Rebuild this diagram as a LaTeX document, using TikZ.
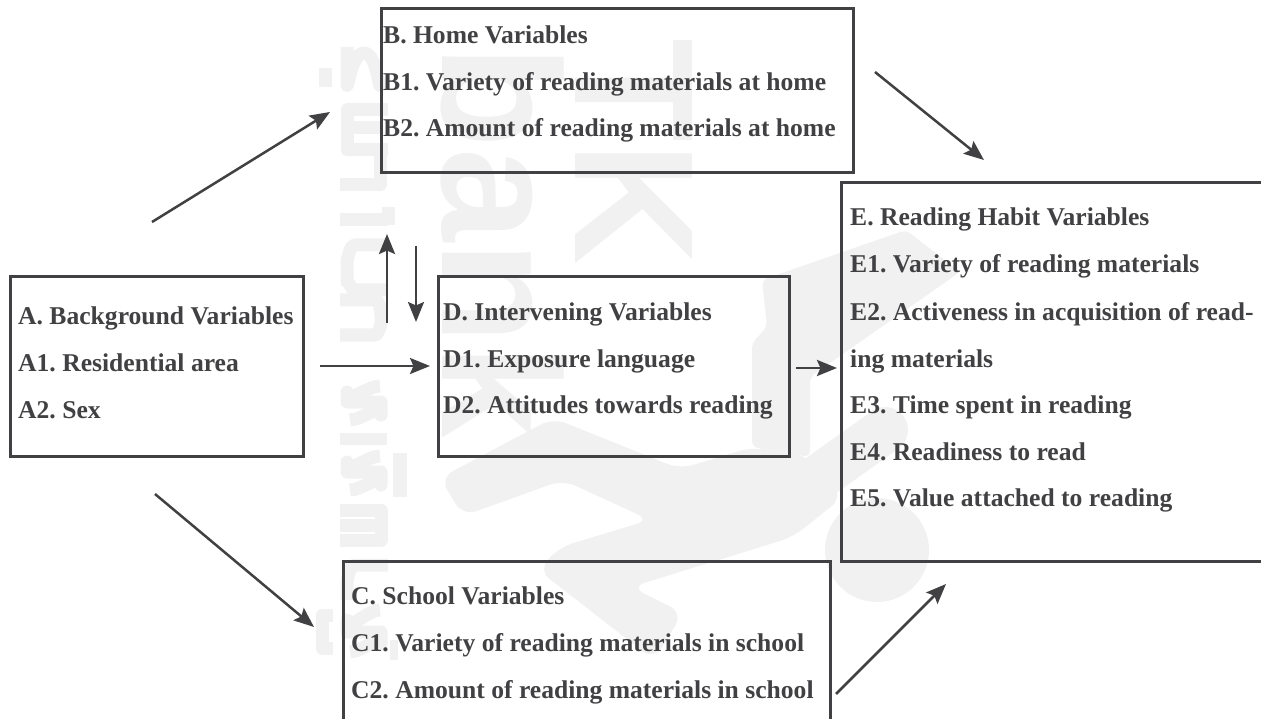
\documentclass[tikz,border=0pt]{standalone}
\usepackage{fontspec}
\setmainfont{Liberation Serif}
\newfontfamily\wm{Liberation Sans}
\frenchspacing
\usetikzlibrary{arrows.meta}
\definecolor{ink}{HTML}{414042}
\definecolor{wmark}{HTML}{F1F1F1}
\tikzset{
  x=1pt,y=-1pt,
  vbox/.style={draw=ink,line width=3pt,fill=none,inner sep=0pt,outer sep=0pt,rectangle,anchor=north west},
  vtext/.style={text=ink,font=\fontsize{25.6}{26}\bfseries\selectfont,anchor=base west,inner sep=0pt,yshift=-1pt},
  arr/.style={draw=ink,line width=2.5pt,-{Stealth[length=20pt,width=16pt,inset=3.5pt]}},
  wmtext/.style={text=wmark,inner sep=0pt},
  wmstroke/.style={draw=wmark,line width=13pt,fill=none,line cap=butt,line join=round},
  wmfill/.style={fill=wmark,draw=none}
}
\begin{document}
\begin{tikzpicture}
\useasboundingbox (0,0) rectangle (1261,719);
% watermark: rotated lettering
\node[wmtext,rotate=-90,font=\wm\bfseries\fontsize{170}{170}\selectfont] (wtk) at (634,152) {TK};
\node[wmtext,rotate=-90,font=\wm\bfseries\fontsize{168}{168}\selectfont] (wbank) at (503,242) {bank};
% watermark: vertical column of strokes
\draw[wmstroke] (347,47) -- (347,83) (380,83) to[out=-90,in=0,looseness=1] (364,53) to[out=180,in=-90] (347,83);
\draw[wmstroke] (325,68) -- (325,87);
\draw[wmstroke] (388,110) -- (347,110) -- (347,150) -- (388,150) (347,128) -- (380,128) (380,150) -- (380,185) -- (340,185);
\draw[wmstroke] (340,220) -- (388,220) (388,207) -- (388,225);
\draw[wmstroke] (388,245) -- (355,245) to[out=180,in=-90] (347,260) -- (347,282) to[out=90,in=180] (355,290) -- (388,290);
\draw[wmstroke] (340,300) -- (375,300) to[out=0,in=-90] (381,315) -- (381,325) to[out=90,in=0] (375,335) -- (340,335);
\draw[wmstroke] (380,386) to[out=180,in=-90] (347,392) -- (347,402) -- (381,402) -- (381,415) to[out=90,in=0] (350,420);
\draw[wmfill] (340,433) rectangle (387,445);
\draw[wmstroke] (380,456) to[out=180,in=-90] (347,462) -- (347,472) -- (381,472) -- (381,485) to[out=90,in=0] (350,490);
\draw[wmfill] (393,453) rectangle (407,497);
\draw[wmstroke] (340,510) -- (381,510) -- (381,540) -- (340,540) (340,525) -- (381,525);
\draw[wmstroke] (388,565) -- (355,565) to[out=180,in=-90] (347,580) -- (347,600);
\draw[wmstroke] (380,610) to[out=180,in=-90] (347,620) -- (347,632) -- (381,632) -- (381,645) to[out=90,in=0] (350,652);
\draw[wmstroke] (333,615) -- (322,615) -- (322,648) -- (333,648);
\draw[wmfill] (390,640) rectangle (398,660);
% watermark: figure
\draw[wmfill,rounded corners=6pt] (762,280) -- (906,230) -- (960,272) -- (810,377) -- (810,457) -- (752,447) -- (752,343) -- (767,327) -- cycle;
\draw[wmfill,rounded corners=14pt] (553,418) -- (680,469) -- (752,447) -- (810,457) -- (843,497) -- (793,537) -- (631,587) -- (683,613) -- (654,660) -- (538,570) -- (560,547) -- (650,520) -- (563,480) -- (463,516) -- (440,478) -- cycle;
\draw[draw=wmark,line width=46pt,line cap=round] (815,480) -- (885,430);
\fill[wmark] (877,550) circle[radius=52];
% boxes
\node[vbox,minimum width=293pt,minimum height=179pt] (A) at (10,277) {};
\node[vbox,minimum width=472pt,minimum height=164pt] (B) at (381,9) {};
\node[vbox,minimum width=487pt,minimum height=170pt] (C) at (343,561) {};
\node[vbox,minimum width=351pt,minimum height=179pt] (D) at (438,277) {};
\node[vbox,minimum width=430pt,minimum height=378pt] (E) at (841,183) {};
% labels
\node[vtext] (a0) at (18,323) {A. Background Variables};
\node[vtext] (a1) at (18,370) {A1. Residential area};
\node[vtext] (a2) at (18,417) {A2. Sex};
\node[vtext] (b0) at (383,43) {B. Home Variables};
\node[vtext] (b1) at (383,90) {B1. Variety of reading materials at home};
\node[vtext] (b2) at (383,136) {B2. Amount of reading materials at home};
\node[vtext] (c0) at (351,603) {C. School Variables};
\node[vtext] (c1) at (351,650) {C1. Variety of reading materials in school};
\node[vtext] (c2) at (351,697) {C2. Amount of reading materials in school};
\node[vtext] (d0) at (443,319) {D. Intervening Variables};
\node[vtext] (d1) at (443,366) {D1. Exposure language};
\node[vtext] (d2) at (443,412) {D2. Attitudes towards reading};
\node[vtext] (e0) at (850,225) {E. Reading Habit Variables};
\node[vtext] (e1) at (850,272) {E1. Variety of reading materials};
\node[vtext] (e2) at (850,319) {E2. Activeness in acquisition of read-};
\node[vtext] (e2b) at (850,366) {ing materials};
\node[vtext] (e3) at (850,412) {E3. Time spent in reading};
\node[vtext] (e4) at (850,459) {E4. Readiness to read};
\node[vtext] (e5) at (850,505) {E5. Value attached to reading};
% arrow ends
\coordinate (p1) at (152,222); \coordinate (q1) at (330,112);
\coordinate (p2) at (875,72);  \coordinate (q2) at (984,160);
\coordinate (p3) at (387,323); \coordinate (q3) at (387,234);
\coordinate (p4) at (416,246); \coordinate (q4) at (416,322);
\coordinate (p5) at (320,366); \coordinate (q5) at (430,366);
\coordinate (p6) at (796,368); \coordinate (q6) at (837,368);
\coordinate (p7) at (155,494); \coordinate (q7) at (314,627);
\coordinate (p8) at (836,694); \coordinate (q8) at (946,584);
\foreach \i in {1,2,4,5,7,8} \draw[arr] (p\i) -- (q\i);
\foreach \i in {3,6} \draw[arr,line width=2.9pt] (p\i) -- (q\i);
\end{tikzpicture}
\end{document}
